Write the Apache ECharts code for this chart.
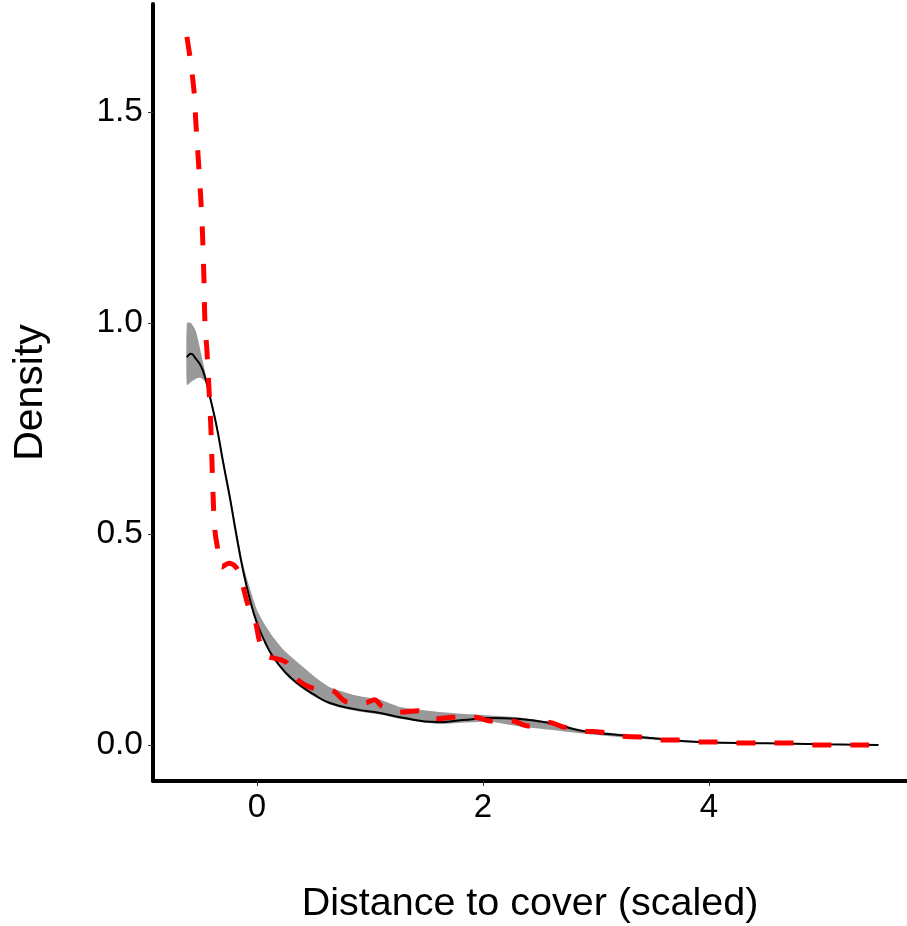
<!DOCTYPE html>
<html>
<head>
<meta charset="utf-8">
<script src="https://cdn.jsdelivr.net/npm/echarts@6/dist/echarts.min.js"></script>
<style>
html,body{margin:0;padding:0;background:#fff;}
#chart{width:907px;height:926px;}
</style>
</head>
<body>
<div id="chart"></div>
<script>
// Fitted density (black line) and its confidence band (grey)
var fitX = [-0.62, -0.584, -0.54, -0.496, -0.46, -0.416, -0.354, -0.301, -0.239, -0.186, -0.124, -0.062, 0, 0.071, 0.142, 0.248, 0.354, 0.496, 0.646, 0.867, 1.09, 1.265, 1.59, 1.82, 2.06, 2.30, 2.59, 2.88, 3.19, 3.48, 3.92, 4.51, 5.0, 5.5];
var fitY = [0.919, 0.927, 0.915, 0.898, 0.872, 0.825, 0.751, 0.672, 0.585, 0.503, 0.415, 0.344, 0.289, 0.244, 0.209, 0.173, 0.147, 0.121, 0.0995, 0.085, 0.076, 0.066, 0.0545, 0.059, 0.064, 0.062, 0.052, 0.033, 0.024, 0.0166, 0.007, 0.004, 0.002, 0.0];
var bandUpper = [1.0, 1.0, 0.98, 0.93, 0.885, 0.835, 0.762, 0.684, 0.598, 0.518, 0.43, 0.37, 0.32, 0.285, 0.256, 0.222, 0.197, 0.165, 0.137, 0.118, 0.107, 0.09, 0.079, 0.074, 0.07, 0.066, 0.055, 0.036, 0.027, 0.019, 0.009, 0.005, 0.003, 0.001];
var bandLower = [0.853, 0.86, 0.868, 0.87, 0.862, 0.818, 0.745, 0.667, 0.58, 0.498, 0.41, 0.34, 0.285, 0.24, 0.205, 0.169, 0.143, 0.117, 0.096, 0.081, 0.072, 0.062, 0.05, 0.053, 0.055, 0.045, 0.036, 0.027, 0.019, 0.013, 0.005, 0.003, 0.001, 0.0];

// Empirical density (red dashed line)
var obsX = [-0.62, -0.593, -0.558, -0.54, -0.513, -0.487, -0.469, -0.46, -0.442, -0.425, -0.407, -0.389, -0.372, -0.345, -0.31, -0.248, -0.195, -0.15, -0.115, -0.071, -0.018, 0.027, 0.08, 0.15, 0.221, 0.265, 0.363, 0.496, 0.664, 0.796, 0.956, 1.04, 1.106, 1.265, 1.425, 1.593, 1.735, 1.93, 2.06, 2.257, 2.40, 2.575, 2.71, 2.90, 3.035, 3.23, 3.39, 3.57, 3.73, 3.90, 4.05, 4.23, 4.39, 4.57, 4.73, 4.91, 5.07, 5.23, 5.40, 5.5];
var obsY = [1.678, 1.63, 1.552, 1.472, 1.363, 1.244, 1.102, 1.0, 0.931, 0.846, 0.746, 0.597, 0.509, 0.462, 0.422, 0.431, 0.424, 0.403, 0.367, 0.325, 0.296, 0.242, 0.213, 0.206, 0.201, 0.194, 0.154, 0.135, 0.13, 0.102, 0.0995, 0.107, 0.092, 0.078, 0.081, 0.062, 0.066, 0.066, 0.057, 0.057, 0.045, 0.054, 0.043, 0.033, 0.031, 0.021, 0.019, 0.012, 0.012, 0.007, 0.007, 0.005, 0.005, 0.005, 0.005, 0.0, 0.0, 0.0, 0.0, 0.0];

var xTicks = [0, 2, 4];
var yTicks = [0.0, 0.5, 1.0, 1.5];

function zip(a, b) { return a.map(function (v, i) { return [v, b[i]]; }); }

var chart = echarts.init(document.getElementById('chart'), null, {renderer: 'canvas'});
var FONT = '"Liberation Sans", Arial, Helvetica, sans-serif';

var option = {
  animation: false,
  backgroundColor: '#ffffff',
  grid: {left: 153, right: 0, top: 4, bottom: 145, containLabel: false, outerBoundsMode: 'none'},
  xAxis: {
    type: 'value',
    min: -0.92, max: 5.752,
    splitLine: {show: false},
    axisLine: {show: true, onZero: false, lineStyle: {color: '#000', width: 4}},
    axisTick: {show: true, length: 5, lineStyle: {color: '#333', width: 1}, customValues: xTicks},
    axisLabel: {show: true, margin: 10, color: '#000', fontSize: 33, fontFamily: FONT, customValues: xTicks,
      formatter: function (v) { return String(v); }},
    name: 'Distance to cover (scaled)',
    nameLocation: 'middle',
    nameGap: 103,
    nameTextStyle: {color: '#000', fontSize: 39.5, fontFamily: FONT}
  },
  yAxis: {
    type: 'value',
    min: -0.0853, max: 1.756,
    splitLine: {show: false},
    axisLine: {show: true, onZero: false, lineStyle: {color: '#000', width: 4}},
    axisTick: {show: true, length: 5, lineStyle: {color: '#333', width: 1}, customValues: yTicks},
    axisLabel: {show: true, margin: 10, color: '#000', fontSize: 33.5, fontFamily: FONT, customValues: yTicks,
      formatter: function (v) { return v.toFixed(1); }},
    name: 'Density',
    nameLocation: 'middle',
    nameRotate: 90,
    nameGap: 102,
    nameTextStyle: {color: '#000', fontSize: 41, fontFamily: FONT}
  },
  series: [
    {
      type: 'custom',
      name: 'band',
      data: [[0, 0]],
      z: 1,
      silent: true,
      renderItem: function (params, api) {
        var pts = [];
        for (var i = 0; i < fitX.length; i++) pts.push(api.coord([fitX[i], bandUpper[i]]));
        for (var j = fitX.length - 1; j >= 0; j--) pts.push(api.coord([fitX[j], bandLower[j]]));
        return {
          type: 'polygon',
          shape: {points: pts, smooth: 0.2},
          style: {fill: '#999999', stroke: null}
        };
      }
    },
    {
      type: 'line',
      name: 'fit',
      data: zip(fitX, fitY),
      smooth: 0.5,
      showSymbol: false,
      z: 2,
      lineStyle: {color: '#000', width: 2}
    },
    {
      type: 'line',
      name: 'observed',
      data: zip(obsX, obsY),
      smooth: 0.35,
      showSymbol: false,
      z: 3,
      lineStyle: {color: '#ff0000', width: 5, type: [19, 19], cap: 'butt'}
    }
  ]
};
chart.setOption(option);
</script>
</body>
</html>
